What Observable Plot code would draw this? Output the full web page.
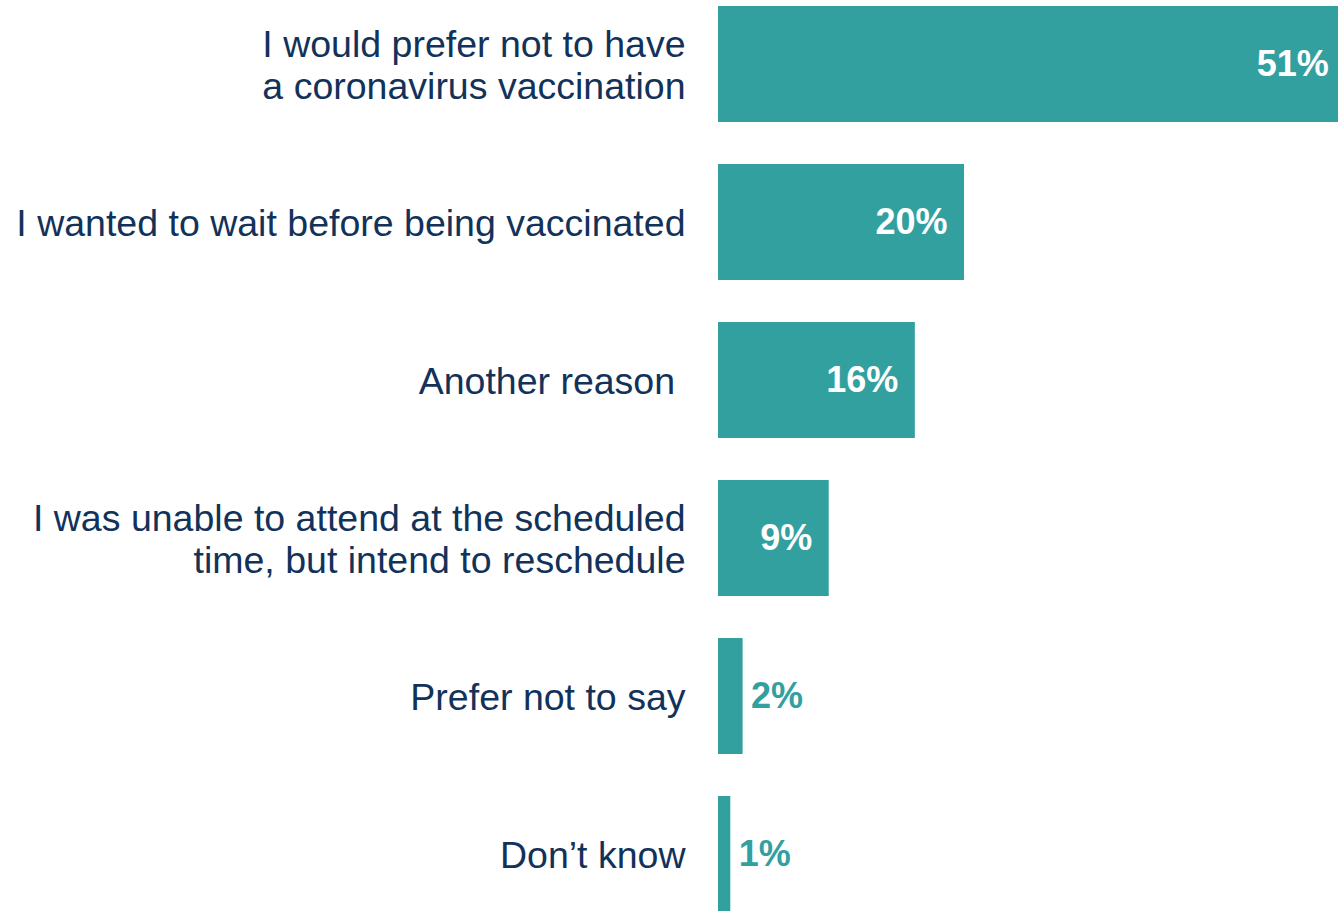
<!DOCTYPE html>
<html>
<head>
<meta charset="utf-8">
<script src="https://cdn.jsdelivr.net/npm/d3@7"></script>
<script src="https://cdn.jsdelivr.net/npm/@observablehq/plot@0.6"></script>
<style>
  html, body { margin: 0; padding: 0; background: #fff; }
  #chart svg { display: block; }
</style>
</head>
<body>
<div id="chart"></div>
<script>
const categories = [
  "I would prefer not to have\na coronavirus vaccination",
  "I wanted to wait before being vaccinated",
  "Another reason\u00a0",
  "I was unable to attend at the scheduled\ntime, but intend to reschedule",
  "Prefer not to say",
  "Don\u2019t know"
];
const values = [51, 20, 16, 9, 2, 1];
const valueLabels = ["51%", "20%", "16%", "9%", "2%", "1%"];

const data = categories.map((c, i) => ({category: c, value: values[i], label: valueLabels[i]}));
const inside = data.filter(d => d.value >= 5);
const outside = data.filter(d => d.value < 5);

const teal = "#33a0a0";
const navy = "#12325a";

const chart = Plot.plot({
  width: 1338,
  height: 911,
  marginLeft: 718,
  marginRight: 0,
  marginTop: 0,
  marginBottom: 0,
  style: {fontFamily: "'Liberation Sans', Arial, sans-serif", background: "#fff"},
  x: {domain: [0, 50.4], axis: null},
  y: {domain: categories, range: [6, 912], paddingInner: 0.266, paddingOuter: 0, round: false, axis: null},
  marks: [
    Plot.barX(data, {x: "value", y: "category", fill: teal, clip: true}),
    Plot.text(inside, {x: "value", y: "category", text: "label", textAnchor: "end", dx: -17,
      fill: "#fff", fontWeight: "bold", fontSize: 36}),
    Plot.text(outside, {x: "value", y: "category", text: "label", textAnchor: "start", dx: 8,
      fill: teal, fontWeight: "bold", fontSize: 36}),
    Plot.text(data, {frameAnchor: "left", y: "category", text: "category", textAnchor: "end", dx: -33,
      fill: navy, fontSize: 37.5, lineHeight: 1.12})
  ]
});
document.getElementById("chart").appendChild(chart);
</script>
</body>
</html>
